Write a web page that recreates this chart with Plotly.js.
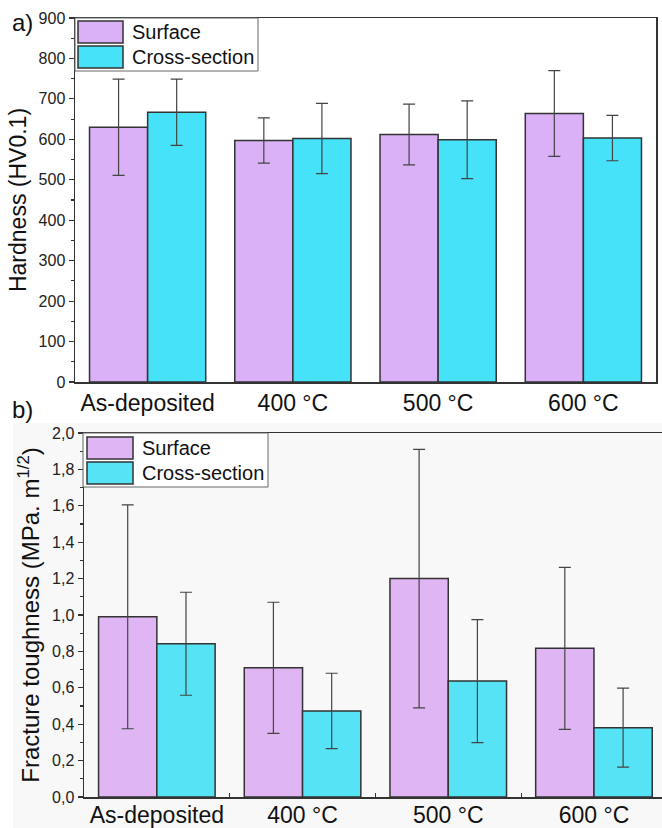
<!DOCTYPE html>
<html>
<head>
<meta charset="utf-8">
<script src="https://cdn.plot.ly/plotly-3.0.1.min.js"></script>
<style>html,body{margin:0;padding:0;background:#fff}#chart{width:662px;height:828px}</style>
</head>
<body>
<div id="chart"></div>
<script>
// ---- data ----
const categories = ['As-deposited', '400 °C', '500 °C', '600 °C'];
const seriesNames = ['Surface', 'Cross-section'];
const hardnessSurface = [630, 597, 612, 664];
const hardnessSurfaceErr = [119, 56, 75, 106];
const hardnessCross = [667, 602, 599, 603];
const hardnessCrossErr = [82, 87, 96, 56];
const toughnessSurface = [0.99, 0.71, 1.20, 0.817];
const toughnessSurfaceErr = [0.615, 0.36, 0.71, 0.445];
const toughnessCross = [0.842, 0.473, 0.637, 0.381];
const toughnessCrossErr = [0.283, 0.207, 0.338, 0.217];

// ---- styling ----
const W = 662, H = 828;
const px = x => x / W;
const py = y => 1 - y / H;
const FONT = 'Arial, "Liberation Sans", sans-serif';
const colSurfA = '#dab0f6', colCrossA = '#45e2fa';
const colSurfB = '#e0b5f3', colCrossB = '#55e3f5';
const outline = {color: '#333', width: 1.5};
const errStyle = {thickness: 1.2, width: 6, color: '#444'};

function bar(x, y, err, color, name, xa, ya) {
  return {
    type: 'bar', x: x, y: y, name: name, xaxis: xa, yaxis: ya, showlegend: false,
    marker: {color: color, line: outline},
    error_y: Object.assign({type: 'data', array: err, visible: true}, errStyle),
    hoverinfo: 'x+y'
  };
}

const traces = [
  bar(categories, hardnessSurface, hardnessSurfaceErr, colSurfA, seriesNames[0], 'x', 'y'),
  bar(categories, hardnessCross, hardnessCrossErr, colCrossA, seriesNames[1], 'x', 'y'),
  bar(categories, toughnessSurface, toughnessSurfaceErr, colSurfB, seriesNames[0], 'x2', 'y2'),
  bar(categories, toughnessCross, toughnessCrossErr, colCrossB, seriesNames[1], 'x2', 'y2')
];

function legendShapes(box, sw1, sw2, c1, c2) {
  return [
    {type: 'rect', xref: 'paper', yref: 'paper', layer: 'above',
     x0: px(box[0]), x1: px(box[1]), y0: py(box[3]), y1: py(box[2]),
     fillcolor: 'rgba(255,255,255,0.95)', line: {color: '#666', width: 1}},
    {type: 'rect', xref: 'paper', yref: 'paper', layer: 'above',
     x0: px(sw1[0]), x1: px(sw1[1]), y0: py(sw1[3]), y1: py(sw1[2]),
     fillcolor: c1, line: outline},
    {type: 'rect', xref: 'paper', yref: 'paper', layer: 'above',
     x0: px(sw2[0]), x1: px(sw2[1]), y0: py(sw2[3]), y1: py(sw2[2]),
     fillcolor: c2, line: outline}
  ];
}

function legendText(x, y1, y2) {
  return [
    {xref: 'paper', yref: 'paper', x: px(x), y: py(y1), xanchor: 'left', yanchor: 'middle',
     text: seriesNames[0], showarrow: false, font: {family: FONT, size: 20, color: '#111'}},
    {xref: 'paper', yref: 'paper', x: px(x), y: py(y2), xanchor: 'left', yanchor: 'middle',
     text: seriesNames[1], showarrow: false, font: {family: FONT, size: 20, color: '#111'}}
  ];
}

const shapes = [
  // light grey background of panel b
  {type: 'rect', xref: 'paper', yref: 'paper', layer: 'below',
   x0: px(13), x1: 1, y0: 0, y1: py(423), fillcolor: '#f8f8f8', line: {width: 0}}
].concat(
  legendShapes([75, 258, 18, 71], [78, 123, 21, 43], [78, 123, 46, 68], colSurfA, colCrossA),
  legendShapes([83, 268, 433, 487], [87, 133, 437, 459], [87, 133, 462, 484], colSurfB, colCrossB)
);

const annotations = [
  {xref: 'paper', yref: 'paper', x: px(10), y: py(22), xanchor: 'left', yanchor: 'middle',
   text: 'a)', showarrow: false, font: {family: FONT, size: 24, color: '#111'}},
  {xref: 'paper', yref: 'paper', x: px(10), y: py(409), xanchor: 'left', yanchor: 'middle',
   text: 'b)', showarrow: false, font: {family: FONT, size: 24, color: '#111'}}
].concat(legendText(130, 32, 57), legendText(140, 448, 473));

const tickFont = {family: FONT, size: 16, color: '#222'};
const catFont = {family: FONT, size: 23, color: '#111'};

const layout = {
  width: W, height: H,
  margin: {l: 0, r: 0, t: 0, b: 0},
  paper_bgcolor: '#ffffff',
  plot_bgcolor: 'rgba(0,0,0,0)',
  separators: ',.',
  barmode: 'group', bargap: 0.2, bargroupgap: 0,
  showlegend: false,
  xaxis: {
    domain: [px(75), px(656)], anchor: 'y', type: 'category', range: [-0.5, 3.5],
    showline: true, linecolor: '#333', linewidth: 1.5, mirror: true,
    ticks: '', showgrid: false, zeroline: false, tickfont: catFont
  },
  yaxis: {
    domain: [py(382), py(18)], anchor: 'x', range: [0, 900], dtick: 100,
    showline: true, linecolor: '#333', linewidth: 1.5, mirror: true,
    ticks: 'outside', ticklen: 5, tickwidth: 1.2, tickcolor: '#333',
    minor: {dtick: 50, ticks: 'outside', ticklen: 3, tickcolor: '#333', showgrid: false},
    showgrid: false, zeroline: false, tickfont: tickFont,
    title: {text: 'Hardness (HV0.1)', font: {family: FONT, size: 23, color: '#111'}, standoff: 5}
  },
  xaxis2: {
    domain: [px(84), 1], anchor: 'y2', type: 'category', range: [-0.5, 3.467],
    showline: true, linecolor: '#333', linewidth: 1.5, mirror: true,
    ticks: 'inside', tickson: 'boundaries', ticklen: 4, tickcolor: '#333',
    ticklabelstandoff: -3,
    showgrid: false, zeroline: false, tickfont: catFont
  },
  yaxis2: {
    domain: [py(797), py(433)], anchor: 'x2', range: [0, 2], dtick: 0.2, tickformat: '.1f',
    showline: true, linecolor: '#333', linewidth: 1.5, mirror: false,
    ticks: 'outside', ticklen: 5, tickwidth: 1.2, tickcolor: '#333',
    minor: {dtick: 0.1, ticks: 'outside', ticklen: 3, tickcolor: '#333', showgrid: false},
    showgrid: false, zeroline: false, tickfont: tickFont,
    title: {text: 'Fracture toughness (MPa. m<sup>1/2</sup>)', font: {family: FONT, size: 24, color: '#111'}, standoff: 5}
  },
  shapes: shapes,
  annotations: annotations
};

Plotly.newPlot('chart', traces, layout, {displayModeBar: false, staticPlot: true});
</script>
</body>
</html>
